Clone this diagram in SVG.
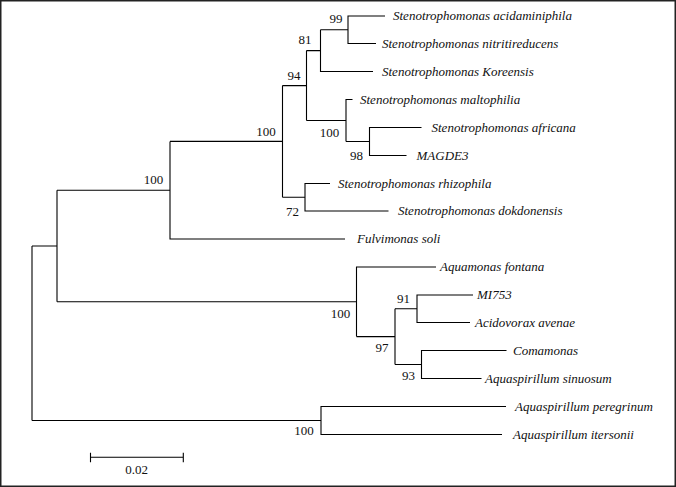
<svg xmlns="http://www.w3.org/2000/svg" width="676" height="487" viewBox="0 0 676 487">
<style>
.br{fill:none;stroke:#000;stroke-width:1.1}
.lf{font-family:"Liberation Serif","Times New Roman",serif;font-size:13px;font-style:italic;fill:#111}
.bs{font-family:"Liberation Serif","Times New Roman",serif;font-size:13px;fill:#111;text-anchor:middle}
</style>
<rect x="0" y="0" width="676" height="487" fill="#fff"/>
<rect x="0.75" y="0.75" width="674.5" height="485.5" fill="none" stroke="#222" stroke-width="1.5"/>
<g id="connectors" class="br">
<path d="M32,246V420.5"/>
<path d="M32,246H57V190.2M57,246V301.8"/>
<path d="M57,190.2H170V141.4M170,190.2V239H345"/>
<path d="M170,141.4H282.5V85.6M282.5,141.4V197.25"/>
<path d="M282.5,85.6H306.5V50.6M306.5,85.6V120.5"/>
<path d="M306.5,50.6H320.5V29.75M320.5,50.6V71.5H373"/>
<path d="M320.5,29.75H348V16H385M348,29.75V43.5H376"/>
<path d="M306.5,120.5H346V99.5H352.5M346,120.5V141.5"/>
<path d="M346,141.5H369.5V127.5H421.5M369.5,141.5V155.5H406.5"/>
<path d="M282.5,197.25H305V183.5H330M305,197.25V211H388.5"/>
<path d="M57,301.8H356.5V267H436M356.5,301.8V336.6"/>
<path d="M356.5,336.6H395V308.75M395,336.6V364.5"/>
<path d="M395,308.75H417V295H473M417,308.75V322.5H470"/>
<path d="M395,364.5H421.5V350.5H506.5M421.5,364.5V378.5H481.5"/>
<path d="M32,420.5H321V406.5H506M321,420.5V434.5H502"/>
</g>
<g id="leaf-acidaminiphila"><text class="lf" x="393" y="20">Stenotrophomonas acidaminiphila</text></g>
<g id="leaf-nitritireducens"><text class="lf" x="382" y="47.5">Stenotrophomonas nitritireducens</text></g>
<g id="leaf-koreensis"><text class="lf" x="382" y="75.5">Stenotrophomonas Koreensis</text></g>
<g id="leaf-maltophilia"><text class="lf" x="360" y="103.5">Stenotrophomonas maltophilia</text></g>
<g id="leaf-africana"><text class="lf" x="431.5" y="131.5">Stenotrophomonas africana</text></g>
<g id="leaf-magde3"><text class="lf" x="416.5" y="159.5">MAGDE3</text></g>
<g id="leaf-rhizophila"><text class="lf" x="338" y="187.5">Stenotrophomonas rhizophila</text></g>
<g id="leaf-dokdonensis"><text class="lf" x="398" y="215">Stenotrophomonas dokdonensis</text></g>
<g id="leaf-fulvimonas"><text class="lf" x="357" y="243">Fulvimonas soli</text></g>
<g id="leaf-aquamonas"><text class="lf" x="440" y="271">Aquamonas fontana</text></g>
<g id="leaf-mi753"><text class="lf" x="477" y="299">MI753</text></g>
<g id="leaf-acidovorax"><text class="lf" x="475" y="326.5">Acidovorax avenae</text></g>
<g id="leaf-comamonas"><text class="lf" x="513" y="354.5">Comamonas</text></g>
<g id="leaf-sinuosum"><text class="lf" x="485" y="382.5">Aquaspirillum sinuosum</text></g>
<g id="leaf-peregrinum"><text class="lf" x="515" y="410.5">Aquaspirillum peregrinum</text></g>
<g id="leaf-itersonii"><text class="lf" x="513" y="438.5">Aquaspirillum itersonii</text></g>
<g id="node-99"><text class="bs" x="336" y="23">99</text></g>
<g id="node-81"><text class="bs" x="305" y="43.5">81</text></g>
<g id="node-94"><text class="bs" x="294" y="80">94</text></g>
<g id="node-100a"><text class="bs" x="266" y="135.5">100</text></g>
<g id="node-100b"><text class="bs" x="329.5" y="137">100</text></g>
<g id="node-98"><text class="bs" x="356.5" y="159.5">98</text></g>
<g id="node-72"><text class="bs" x="292.5" y="216">72</text></g>
<g id="node-100c"><text class="bs" x="153.5" y="184">100</text></g>
<g id="node-100d"><text class="bs" x="340.5" y="318">100</text></g>
<g id="node-91"><text class="bs" x="403.5" y="302.5">91</text></g>
<g id="node-97"><text class="bs" x="382" y="352">97</text></g>
<g id="node-93"><text class="bs" x="408.5" y="380">93</text></g>
<g id="node-100e"><text class="bs" x="304" y="435">100</text></g>
<g id="scale-bar">
<path class="br" d="M90.5,457.3H183.3M90.5,452.7V462.3M183.3,452.7V462.3"/>
<text class="bs" x="136.5" y="474">0.02</text>
</g>
</svg>
